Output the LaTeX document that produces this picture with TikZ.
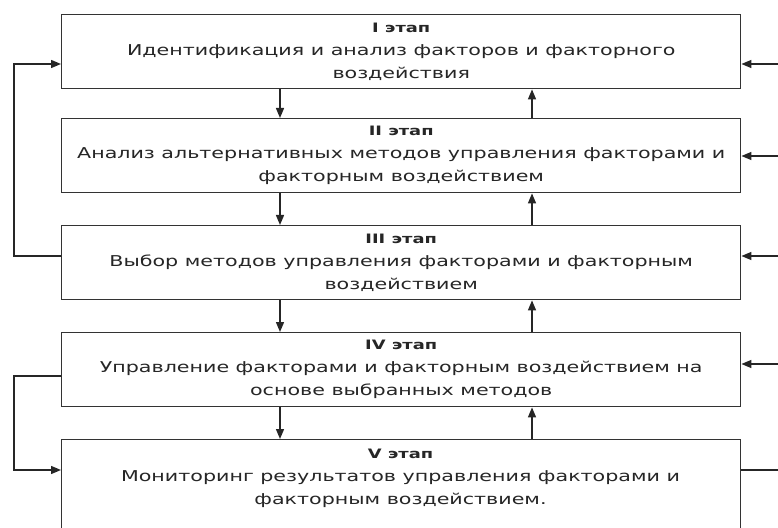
\documentclass[tikz,border=0pt]{standalone}
\usepackage{fontspec}
\setmainfont{DejaVu Sans}[FakeStretch=1.38]
\usetikzlibrary{arrows.meta}
\begin{document}
\begin{tikzpicture}[x=1bp,y=-1bp,
  stage/.style={draw=black!80, line width=1.4bp, minimum width=679bp, minimum height=74bp,
    inner sep=0pt, anchor=north west, align=center, text=black!85,
    font=\fontsize{15}{23}\selectfont},
  arr/.style={draw=black!85, line width=1.4bp, -{Triangle[length=10bp,width=8bp]}},
  ln/.style={draw=black!85, line width=1.4bp}]
\newcommand{\stagetitle}[1]{{\fontsize{13}{23}\selectfont\bfseries #1}}
\clip (0,0) rectangle (778,528);
\fill[white] (0,0) rectangle (778,528);

\node[stage] (s1) at (61,14) {\stagetitle{I этап}\\Идентификация и анализ факторов и факторного\\воздействия};
\node[stage] (s2) at (61,118) {\stagetitle{II этап}\\Анализ альтернативных методов управления факторами и\\факторным воздействием};
\node[stage] (s3) at (61,225) {\stagetitle{III этап}\\Выбор методов управления факторами и факторным\\воздействием};
\node[stage] (s4) at (61,332) {\stagetitle{IV этап}\\Управление факторами и факторным воздействием на\\основе выбранных методов};
\node[stage, minimum height=120bp] (s5) at (61,439) {};
\node[align=center, text=black!85, font=\fontsize{15}{23}\selectfont] (t5) at (400.5,478)
  {\stagetitle{V этап}\\Мониторинг результатов управления факторами и\\факторным воздействием.};

% vertical arrows
\coordinate (dx) at (280,0);
\coordinate (ux) at (532,0);
\foreach \a/\b in {s1/s2,s2/s3,s3/s4,s4/s5}{
  \draw[arr] (\a.south -| dx) -- (\b.north -| dx);
  \draw[arr] (\b.north -| ux) -- (\a.south -| ux);
}

% left feedback loops
\coordinate (la) at (14,256);
\coordinate (lb) at (14,64);
\coordinate (lc) at (14,376);
\coordinate (ld) at (14,470);
\draw[arr] (s3.west |- la) -- (la) -- (lb) -- (s1.west |- lb);
\draw[arr] (s4.west |- lc) -- (lc) -- (ld) -- (s5.west |- ld);

% right inputs
\coordinate (r1) at (790,64);
\coordinate (r2) at (790,156);
\coordinate (r3) at (790,256);
\coordinate (r4) at (790,364);
\coordinate (r5) at (790,470);
\draw[arr] (r1) -- (s1.east |- r1);
\draw[arr] (r2) -- (s2.east |- r2);
\draw[arr] (r3) -- (s3.east |- r3);
\draw[arr] (r4) -- (s4.east |- r4);
\draw[ln] (s5.east |- r5) -- (r5);
\end{tikzpicture}
\end{document}
